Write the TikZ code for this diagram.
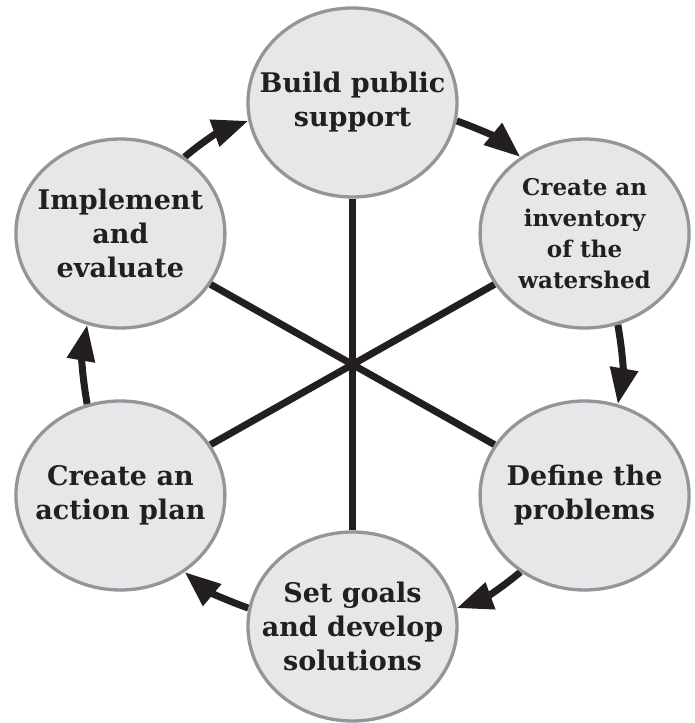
\documentclass[tikz,border=0pt]{standalone}
\usepackage{fontspec}
\setmainfont{DejaVu Serif}
\usetikzlibrary{shapes.geometric,arrows.meta,backgrounds}

\definecolor{discfill}{HTML}{E6E7E8}
\definecolor{discline}{HTML}{939598}
\definecolor{ink}{HTML}{231F20}

\tikzset{
  stage/.style={ellipse,draw=discline,line width=3.3pt,fill=discfill,
    minimum width=209pt,minimum height=189pt,inner sep=-40pt,
    align=center,text=ink,font=\bfseries\fontsize{27}{34}\selectfont},
  spoke/.style={draw=ink,line width=7pt},
  turn/.style={draw=ink,line width=7pt,-{Triangle[length=36pt,width=27pt]}}
}

\begin{document}
\begin{tikzpicture}[x=1pt,y=1pt]
  \useasboundingbox (-352.5,-358.5) rectangle (342.5,364.5);

  \node[stage] (pub) at (90:268 and 262) {Build public\\support};
  \node[stage,font=\bfseries\fontsize{23}{31}\selectfont] (inv) at (30:268 and 262)
    {Create an\\inventory\\of the\\watershed};
  \node[stage] (prob) at (-30:268 and 262) {Define the\\problems};
  \node[stage] (goal) at (-90:268 and 262) {Set goals\\and develop\\solutions};
  \node[stage] (plan) at (210:268 and 262) {Create an\\action plan};
  \node[stage] (eval) at (150:268 and 262) {Implement\\and\\evaluate};

  \begin{scope}[on background layer]
    % spokes through the middle
    \draw[spoke] (pub) -- (goal);
    \draw[spoke] (eval) -- (prob);
    \draw[spoke] (inv) -- (plan);

    % the cycle, clockwise
    \draw[turn] (pub.-10) to[out=-20,in=140] (inv.130);
    \draw[turn] (inv.-70) to[out=-80,in=80] (prob.70);
    \draw[turn] (prob.-130) to[out=-140,in=20] (goal.10);
    \draw[turn] (goal.170) to[out=160,in=-40] (plan.-50);
    \draw[turn] (plan.110) to[out=100,in=260] (eval.250);
    \draw[turn] (eval.50) to[out=40,in=200] (pub.190);
  \end{scope}
\end{tikzpicture}
\end{document}
